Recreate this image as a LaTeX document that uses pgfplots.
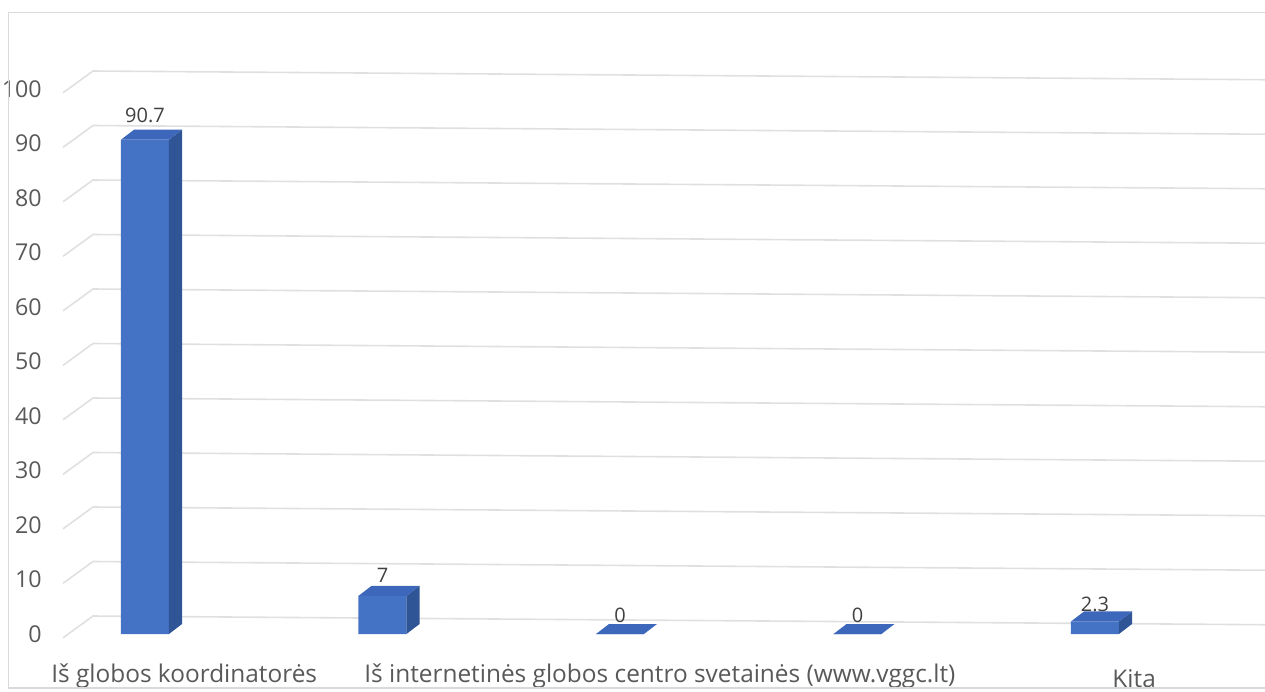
\documentclass[border=0pt]{standalone}
\usepackage{pgfplots}
\pgfplotsset{compat=1.18}
\usepackage{fontspec}
\setmainfont{Open Sans}
\definecolor{front}{HTML}{4472C4}
\definecolor{topc}{HTML}{3C67BA}
\definecolor{sidec}{HTML}{2F5597}
\definecolor{gridc}{HTML}{E0E0E0}
\definecolor{framec}{HTML}{D9D9D9}
\definecolor{tickc}{HTML}{595959}
\definecolor{labelc}{HTML}{404040}
\begin{document}
\begin{tikzpicture}
\begin{axis}[
  scale only axis, width=632.5pt, height=345.5pt,
  xmin=-0.6105, xmax=4.716, ymin=-10.46, ymax=116.33,
  clip=false,
  axis line style={draw=none},
  major tick length=0pt,
  ytick={0,10,...,100},
  xtick={0.165,2.168,4.165},
  xticklabels={Iš globos koordinatorės, Iš internetinės globos centro svetainės (www.vggc.lt), \raisebox{-2.5pt}{Kita}},
  x tick label style={anchor=base, inner sep=0pt, yshift=4.5pt, font=\fontsize{12.2}{14}\selectfont, text=tickc},
  y tick label style={anchor=east, inner sep=0pt, xshift=21pt, font=\fontsize{11.6}{13}\selectfont, text=tickc},
  /pgf/number format/assume math mode=true,
]
% frame
\draw[framec, line width=0.75pt] (axis cs:4.716,114.04) -- (axis cs:-0.5747,114.04) -- (axis cs:-0.5747,-9.91) -- (axis cs:4.716,-9.91);
% back-wall gridlines
\pgfplotsinvokeforeach{0,10,...,100}{
  \draw[gridc, line width=0.8pt] (axis cs:-0.345,#1-0.7) -- (axis cs:-0.219,#1+3.3) -- (axis cs:4.716,#1+1.7);
}
% front faces
\addplot[ybar, bar width=24pt, fill=front, draw=none] coordinates {(0,90.7) (1,7) (2,0) (3,0) (4,2.3)};
% side faces
\addplot[fill=sidec, draw=none] coordinates {(0.101,0) (0.156,1.835) (0.156,92.535) (0.101,90.7)} -- cycle;
\addplot[fill=sidec, draw=none] coordinates {(1.101,0) (1.156,1.835) (1.156,8.835) (1.101,7)} -- cycle;
\addplot[fill=sidec, draw=none] coordinates {(4.101,0) (4.156,1.835) (4.156,4.135) (4.101,2.3)} -- cycle;
% top faces
\addplot[fill=topc, draw=none] coordinates {(-0.101,90.7) (-0.046,92.535) (0.156,92.535) (0.101,90.7)} -- cycle;
\addplot[fill=topc, draw=none] coordinates {(0.899,7) (0.954,8.835) (1.156,8.835) (1.101,7)} -- cycle;
\addplot[fill=topc, draw=none] coordinates {(1.899,0) (1.954,1.835) (2.156,1.835) (2.101,0)} -- cycle;
\addplot[fill=topc, draw=none] coordinates {(2.899,0) (2.954,1.835) (3.156,1.835) (3.101,0)} -- cycle;
\addplot[fill=topc, draw=none] coordinates {(3.899,2.3) (3.954,4.135) (4.156,4.135) (4.101,2.3)} -- cycle;
% data labels
\addplot[draw=none, nodes near coords, point meta=explicit symbolic,
  nodes near coords style={anchor=base, inner sep=0pt, text=labelc, font=\fontsize{10}{12}\selectfont}]
  coordinates {(0,93.8) [90.7] (1,9.36) [7] (2,2.2) [0] (3,2.2) [0] (4,4.1) [2.3]};
\coordinate (bbLL) at (axis cs:-0.6105,-10.46);
\coordinate (bbUR) at (axis cs:4.716,116.33);
\end{axis}
\pgfresetboundingbox
\path (bbLL) rectangle (bbUR);
\end{tikzpicture}
\end{document}
